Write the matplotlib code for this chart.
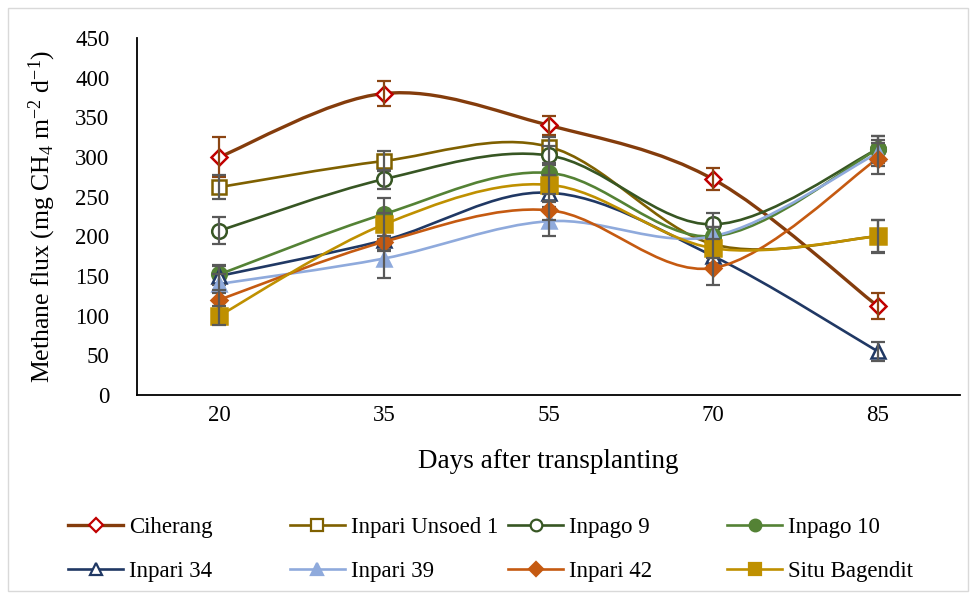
import numpy as np
import matplotlib
matplotlib.use("Agg")
import matplotlib.pyplot as plt
from matplotlib.path import Path
from matplotlib.patches import PathPatch, Rectangle
from matplotlib.lines import Line2D

plt.rcParams['font.family'] = ['Liberation Serif', 'DejaVu Serif']
plt.rcParams['mathtext.fontset'] = 'custom'
plt.rcParams['mathtext.rm'] = 'Liberation Serif'
plt.rcParams['mathtext.it'] = 'Liberation Serif:italic'

# data
days = ['20', '35', '55', '70', '85']
varieties = ['Ciherang', 'Inpari Unsoed 1', 'Inpago 9', 'Inpago 10',
             'Inpari 34', 'Inpari 39', 'Inpari 42', 'Situ Bagendit']
ciherang = [300, 380, 340, 272, 112]
unsoed1 = [262, 295, 313, 190, 200]
inpago9 = [207, 272, 302, 215, 310]
inpago10 = [152, 228, 280, 200, 310]
inpari34 = [150, 195, 255, 175, 55]
inpari39 = [140, 172, 219, 200, 305]
inpari42 = [120, 193, 233, 160, 298]
situ = [100, 215, 265, 185, 200]

err_ciherang = [25, 16, 12, 14, 16]
err_unsoed1 = [15, 13, 12, 10, 20]
err_inpago9 = [17, 12, 12, 15, 17]
err_inpago10 = [12, 20, 12, 12, 17]
err_inpari34 = [12, 12, 12, 12, 12]
err_inpari39 = [12, 24, 18, 12, 17]
err_inpari42 = [12, 12, 12, 21, 19]
err_situ = [12, 15, 12, 12, 21]

values = [ciherang, unsoed1, inpago9, inpago10, inpari34, inpari39, inpari42, situ]
errors = [err_ciherang, err_unsoed1, err_inpago9, err_inpago10,
          err_inpari34, err_inpari39, err_inpari42, err_situ]

# styles: line colour, marker, marker face, marker edge, error bar colour, size
styles = [
    ('#843C0C', 'D', 'white', '#C00000', '#8B4513', 8.5),
    ('#7F6000', 's', 'white', '#7F6000', '#595959', 10),
    ('#375623', 'o', 'white', '#375623', '#595959', 10.5),
    ('#548235', 'o', '#548235', '#548235', '#595959', 10.5),
    ('#203864', '^', 'white', '#203864', '#595959', 10.5),
    ('#8FAADC', '^', '#8FAADC', '#8FAADC', '#595959', 10.5),
    ('#C55A11', 'D', '#C55A11', '#C55A11', '#595959', 8.5),
    ('#BF9000', 's', '#BF9000', '#BF9000', '#595959', 11),
]


def smooth_path(xs, ys):
    # Catmull-Rom style bezier, like a spreadsheet "smoothed line"
    pts = np.column_stack([xs, ys]).astype(float)
    n = len(pts)
    verts = [pts[0]]
    codes = [Path.MOVETO]
    for i in range(n - 1):
        p0 = pts[i - 1] if i > 0 else pts[i]
        p1 = pts[i]
        p2 = pts[i + 1]
        p3 = pts[i + 2] if i + 2 < n else pts[i + 1]
        verts += [p1 + (p2 - p0) / 6, p2 - (p3 - p1) / 6, p2]
        codes += [Path.CURVE4] * 3
    return Path(verts, codes)


fig = plt.figure(figsize=(9.76, 5.98), dpi=100)
ax = fig.add_axes([0.1404, 0.3395, 0.8432, 0.597])

x = np.arange(len(days))
handles = []
for k, (name, vals, errs, st) in enumerate(zip(varieties, values, errors, styles)):
    lc, mk, mfc, mec, ec, ms = st
    lw = 2.4 if k == 0 else 1.9
    ax.add_patch(PathPatch(smooth_path(x, vals), fill=False, edgecolor=lc,
                           lw=lw, zorder=2 + k * 0.1))
    ax.plot(x, vals, linestyle='none', marker=mk, ms=ms, mfc=mfc, mec=mec,
            mew=1.8, zorder=3 + k * 0.1)
    ax.errorbar(x, vals, yerr=errs, fmt='none', ecolor=ec, elinewidth=1.6,
                capsize=5, capthick=1.6, zorder=3.05 + k * 0.1)
    handles.append(Line2D([], [], color=lc, lw=lw, marker=mk, ms=ms * 0.8,
                          mfc=mfc, mec=mec, mew=1.6))

ax.set_xlim(-0.5, 4.5)
ax.set_ylim(0, 450)
ax.set_yticks(np.arange(0, 451, 50))
ax.set_xticks(x)
ax.set_xticklabels(days)
ax.tick_params(axis='both', length=0, labelsize=16.5)
ax.tick_params(axis='y', pad=20)
ax.tick_params(axis='x', pad=7)
for s in ['top', 'right']:
    ax.spines[s].set_visible(False)
for s in ['left', 'bottom']:
    ax.spines[s].set_linewidth(1.3)
    ax.spines[s].set_color('black')

ax.set_xlabel('Days after transplanting', fontsize=19.5, labelpad=17)
ax.set_ylabel(r'Methane flux (mg CH$_4$ m$^{-2}$ d$^{-1}$)', fontsize=18.5,
              labelpad=12)

# legend: 4 columns of 2 rows, evenly spaced
col_x = [0.070, 0.297, 0.521, 0.745]
for c in range(4):
    fig.legend([handles[c], handles[c + 4]], [varieties[c], varieties[c + 4]],
               loc='upper left', bbox_to_anchor=(col_x[c], 0.135),
               frameon=False, fontsize=16.5, handlelength=2.4,
               handletextpad=0.25, labelspacing=1.0, borderpad=0,
               borderaxespad=0)

fig.patches.append(Rectangle((0.008, 0.012), 0.984, 0.975, transform=fig.transFigure,
                             fill=False, edgecolor='#D9D9D9', lw=1))

fig.savefig('out.png', dpi=100)
